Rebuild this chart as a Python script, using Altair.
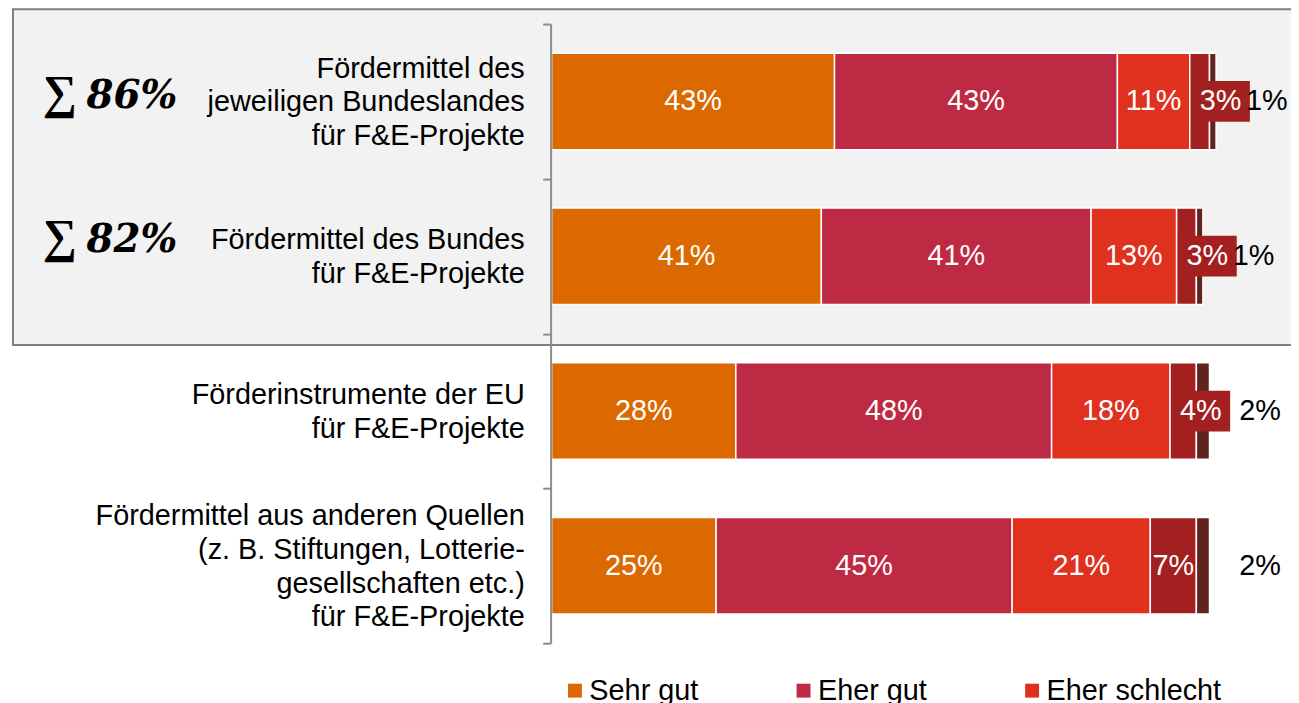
import altair as alt
import pandas as pd

# ---- data ----
categories = [
    "Fördermittel des|jeweiligen Bundeslandes|für F&E-Projekte",
    "Fördermittel des Bundes|für F&E-Projekte",
    "Förderinstrumente der EU|für F&E-Projekte",
    "Fördermittel aus anderen Quellen|(z. B. Stiftungen, Lotterie-|gesellschaften etc.)|für F&E-Projekte",
]
series = ["Sehr gut", "Eher gut", "Eher schlecht", "Sehr schlecht", "Keine Angabe"]
colors = ["#DC6900", "#BE2943", "#E0301E", "#A32020", "#602320"]
sehr_gut = [43, 41, 28, 25]
eher_gut = [43, 41, 48, 45]
eher_schlecht = [11, 13, 18, 21]
sehr_schlecht = [3, 3, 4, 7]
keine_angabe = [1, 1, 2, 2]
sum_categories = categories[:2]
sum_labels = ["86%", "82%"]
legend_values = series[:3]

values = [sehr_gut, eher_gut, eher_schlecht, sehr_schlecht, keine_angabe]
rows = []
for i, cat in enumerate(categories):
    start = 0
    for s, vals in zip(series, values):
        v = vals[i]
        if s == series[-1]:
            kind = "outside"
        elif v < 5:
            kind = "boxed"
        else:
            kind = "inside"
        rows.append(dict(cat=cat, series=s, value=v, start=start, end=start + v,
                         mid=start + v / 2, label=f"{v}%", kind=kind))
        start += v
df = pd.DataFrame(rows)

FONT = "Liberation Sans"
FS = 29
PLOT_H = 623
LINE_H = 34
x_scale = alt.Scale(domain=[0, 100], nice=False, zero=False)
y_scale = alt.Scale(paddingInner=0, paddingOuter=0)

y_axis = alt.Axis(
    title=None, domainColor="#8C8C8C", domainWidth=2, tickColor="#8C8C8C",
    tickWidth=2, tickSize=8, tickBand="extent", labels=False,
    offset=1, zindex=1,
)


def Y():
    return alt.Y("cat:N", sort=categories, scale=y_scale, axis=y_axis)


def X(field):
    return alt.X(field, scale=x_scale, axis=None)


box = alt.Chart(pd.DataFrame({"a": [0]})).mark_rect(
    fill="#F2F2F2", stroke="#808080", strokeWidth=2
).encode(x=alt.value(-542), x2=alt.value(800), y=alt.value(-15), y2=alt.value(323))

base = alt.Chart(df)

bars = base.mark_bar(size=97, stroke="white", strokeWidth=1.5).encode(
    x=X("start:Q"),
    x2="end:Q",
    y=Y(),
    color=alt.Color(
        "series:N",
        scale=alt.Scale(domain=series, range=colors),
        legend=alt.Legend(
            values=legend_values, orient="none", legendX=9, legendY=656,
            direction="horizontal", title=None, labelFont=FONT,
            labelFontSize=FS, labelColor="black", symbolType="square",
            symbolSize=196, symbolStrokeWidth=0, labelOffset=0,
            columnPadding=91, padding=0, labelLimit=400,
        ),
    ),
)

half_band = PLOT_H / len(categories) / 2 + 1
cat_labels = alt.Chart(pd.DataFrame({"cat": categories})).transform_calculate(
    lines="split(datum.cat, '|')",
    yoff=f"{half_band} - (length(split(datum.cat, '|')) - 1) * {LINE_H / 2}",
).mark_text(
    align="right", baseline="middle", font=FONT, fontSize=FS, lineHeight=LINE_H,
    color="black"
).encode(
    x=alt.value(-27), y=Y(),
    yOffset=alt.YOffset("yoff:Q", scale=None),
    text="lines:N",
)

inside = base.transform_filter("datum.kind == 'inside'").mark_text(
    color="white", fontSize=FS, font=FONT
).encode(x=X("mid:Q"), y=Y(), text="label:N")

boxes = base.transform_filter("datum.kind == 'boxed'").mark_point(
    shape="M-1,-0.695L1,-0.695L1,0.695L-1,0.695Z", size=3481, filled=True,
    color="#A32020", opacity=1, strokeWidth=0, xOffset=31
).encode(x=X("start:Q"), y=Y())

boxed_text = base.transform_filter("datum.kind == 'boxed'").mark_text(
    color="white", fontSize=FS, font=FONT, xOffset=31
).encode(x=X("start:Q"), y=Y(), text="label:N")

outside = base.transform_filter("datum.kind == 'outside'").mark_text(
    color="black", fontSize=FS, font=FONT, align="left", dx=30
).encode(x=X("end:Q"), y=Y(), text="label:N")

sig_df = pd.DataFrame({"cat": sum_categories, "pct": sum_labels})
sig_layers = []
for i, dy in enumerate([7, -4]):
    d = alt.Chart(sig_df.iloc[[i]])
    sig_layers.append(
        d.mark_text(text="∑", font="Liberation Serif", fontWeight="bold",
                    fontSize=48, align="left", baseline="alphabetic", dy=dy)
        .encode(x=alt.value(-512), y=Y())
    )
    sig_layers.append(
        d.mark_text(font="DejaVu Serif", fontWeight="bold", fontStyle="italic",
                    fontSize=39, align="left", baseline="alphabetic", dy=dy)
        .encode(x=alt.value(-468), y=Y(), text="pct:N")
    )

chart = alt.layer(box, bars, cat_labels, inside, boxes, boxed_text, outside,
                  *sig_layers).properties(
    width=662, height=PLOT_H,
    autosize=alt.AutoSizeParams(type="none"),
    padding={"left": 547, "top": 14, "right": 82, "bottom": 58},
).configure_view(stroke=None)

chart.save("out.html", embed_options={"renderer": "svg", "actions": False})
